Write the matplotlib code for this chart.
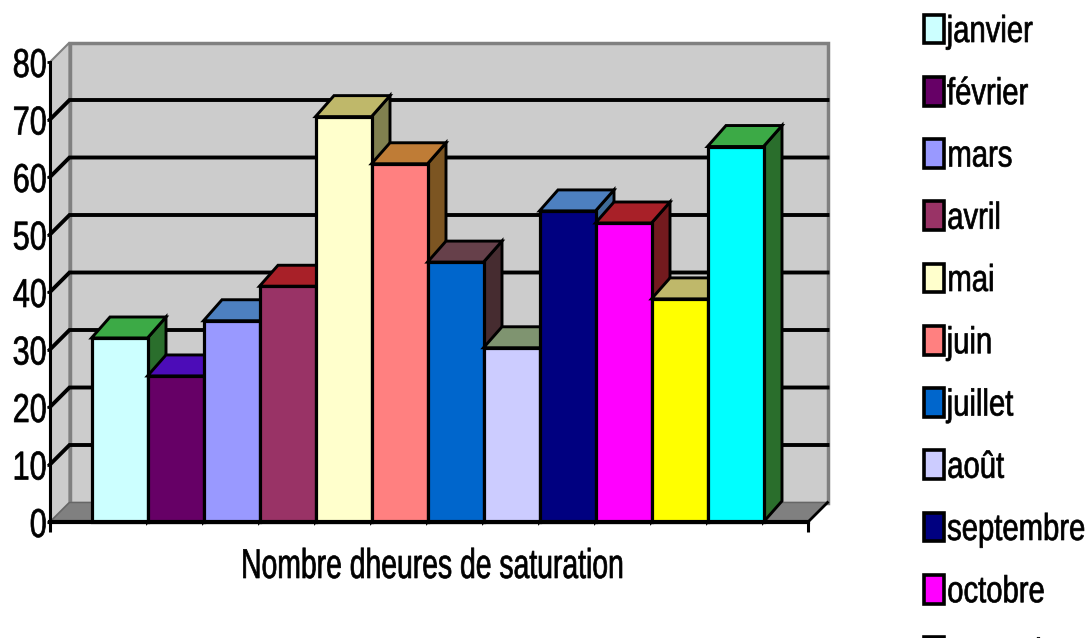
import matplotlib
matplotlib.use('Agg')
import matplotlib.pyplot as plt
from matplotlib.patches import Patch, Polygon, Rectangle
from matplotlib.patheffects import AbstractPathEffect
from matplotlib.transforms import Affine2D

months = ['janvier', 'février', 'mars', 'avril', 'mai', 'juin', 'juillet',
          'août', 'septembre', 'octobre', 'novembre', 'décembre']
heures = [32, 25.4, 35, 41, 70.5, 62.3, 45.2, 30.3, 54.1, 52, 38.8, 65.3]
front_colors = ['#CCFFFF', '#660066', '#9999FF', '#993366', '#FFFFCC', '#FF8080',
                '#0066CC', '#CCCCFF', '#000080', '#FF00FF', '#FFFF00', '#00FFFF']
top_colors = ['#3CAA46', '#4C0CB8', '#4D80C0', '#A82028', '#BFB86A', '#BF7C36',
              '#66404A', '#7F9470', '#4D80C0', '#A82028', '#BFB86A', '#3CAA46']
side_colors = ['#2A6E2C', '#3E0C6E', '#2F5080', '#731A1E', '#80804F', '#7C5522',
               '#462C30', '#50604A', '#3F6C98', '#731A1E', '#80804F', '#2A6E2C']
yticks = [0, 10, 20, 30, 40, 50, 60, 70, 80]
xlabel = "Nombre dheures de saturation"

plt.rcParams['font.family'] = ['Liberation Sans', 'DejaVu Sans']


class Squeeze(AbstractPathEffect):
    # text in the original is set very tight: narrow the glyphs and thicken them a bit
    def __init__(self, sx, anchor='left', stroke=0.5):
        super().__init__()
        self.sx = sx
        self.anchor = anchor
        self.stroke = stroke

    def draw_path(self, renderer, gc, tpath, affine, rgbFace=None):
        box = affine.transform_path(tpath).get_extents()
        x0 = box.x0 if self.anchor == 'left' else box.x1
        squeeze = Affine2D().translate(-x0, 0).scale(self.sx, 1).translate(x0, 0)
        gc0 = renderer.new_gc()
        gc0.copy_properties(gc)
        gc0.set_linewidth(self.stroke)
        gc0.set_foreground('black')
        renderer.draw_path(gc0, tpath, affine + squeeze, rgbFace)
        gc0.restore()


W, H = 1087, 638
fig = plt.figure(figsize=(W / 100, H / 100), dpi=100)
# the axes is the front plane of the 3D box
ax = fig.add_axes([50 / W, 1 - 522 / H, 758 / W, 460 / H])
bar_w = 56
x_left = -69.5 / bar_w
x_right = x_left + 758 / bar_w
ax.set_xlim(x_left, x_right)
ax.set_ylim(0, 80)
ax.set_facecolor('none')

# 3D depth, in data units
dx = 19.5 / bar_w
dy = 19.5 * 80 / 460
bar_dx = 18.5 / bar_w
bar_dy = 21 * 80 / 460

wall = '#CCCCCC'
edge = '#808080'
ax.add_patch(Polygon([(x_left, 0), (x_left + dx, dy), (x_left + dx, 80 + dy), (x_left, 80)],
                     fc=wall, ec=edge, lw=1.5, clip_on=False, zorder=1))
ax.add_patch(Rectangle((x_left + dx, dy), x_right - x_left, 80, fc=wall, ec=edge, lw=2.5,
                       clip_on=False, zorder=1))
ax.add_patch(Polygon([(x_left, 0), (x_right, 0), (x_right + dx, dy), (x_left + dx, dy)],
                     fc=edge, ec='#666666', lw=1, clip_on=False, zorder=1.5))

for v in yticks[1:-1]:
    ax.plot([x_left, x_left + dx, x_right + dx], [v, v + dy, v + dy], color='black', lw=2.8,
            clip_on=False, zorder=2, solid_joinstyle='miter')
ax.plot([x_right, x_right + dx], [0, dy], color='black', lw=2, clip_on=False, zorder=2)

for i, v in enumerate(heures):
    left, right = i - 0.5, i + 0.5
    ax.add_patch(Polygon([(right, 0), (right + bar_dx, bar_dy), (right + bar_dx, v + bar_dy), (right, v)],
                         fc=side_colors[i], ec='black', lw=2.1, zorder=3 + i,
                         joinstyle='miter', clip_on=False))
    ax.add_patch(Polygon([(left, v), (left + bar_dx, v + bar_dy), (right + bar_dx, v + bar_dy), (right, v)],
                         fc=top_colors[i], ec='black', lw=2.1, zorder=3 + i,
                         joinstyle='miter', clip_on=False))
    ax.bar(i, v, width=1, color=front_colors[i], edgecolor='black', linewidth=2.3,
           zorder=3 + i, clip_on=False)

for side in ['top', 'right']:
    ax.spines[side].set_visible(False)
ax.spines['left'].set_linewidth(2.2)
ax.spines['bottom'].set_linewidth(3)
ax.spines['left'].set_zorder(30)
ax.spines['bottom'].set_zorder(30)

ax.set_yticks(yticks)
ax.set_xticks([x_left, x_right])
ax.set_xticklabels([])
ax.tick_params(axis='x', length=7, width=2.2, direction='out')
ax.tick_params(axis='y', length=2, width=2, pad=0, labelsize=29)
for t in ax.get_yticklabels():
    t.set_path_effects([Squeeze(0.76, 'right')])

lab = fig.text(240 / W, 1 - 578 / H, xlabel, fontsize=30, ha='left', va='baseline')
lab.set_path_effects([Squeeze(0.68)])

handles = [Patch(fc=c, ec='black', lw=2.6) for c in front_colors]
leg = fig.legend(handles, months, loc='upper left', bbox_to_anchor=(924 / W, 1 - 14 / H),
                 frameon=False, fontsize=27, handlelength=0.53, handleheight=0.8,
                 handletextpad=0.08, labelspacing=0.7, borderpad=0, borderaxespad=0)
for t in leg.get_texts():
    t.set_path_effects([Squeeze(0.78)])

fig.savefig('out.png', dpi=100)
